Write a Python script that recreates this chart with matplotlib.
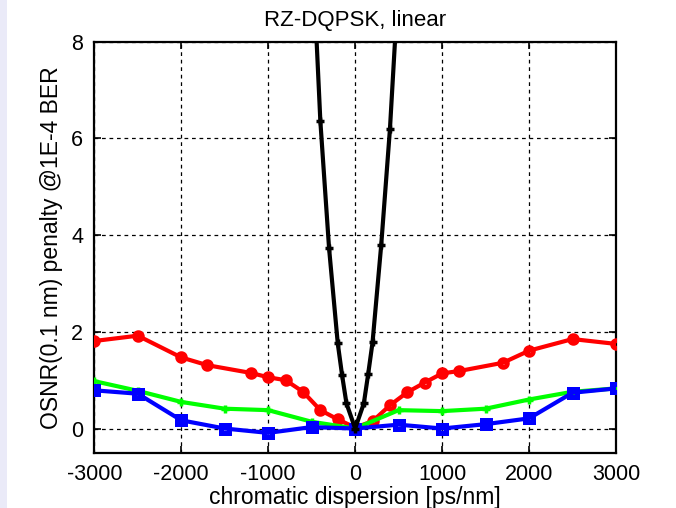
import matplotlib
matplotlib.use("Agg")
import matplotlib.pyplot as plt
from matplotlib.patches import Rectangle

plt.rcParams['font.family'] = ['Liberation Sans', 'DejaVu Sans']

# chromatic dispersion [ps/nm] and OSNR penalty [dB] per curve
cd_red = [-3000, -2500, -2000, -1700, -1200, -1000, -800, -600, -400, -200, 0,
          200, 400, 600, 800, 1000, 1200, 1700, 2000, 2500, 3000]
pen_red = [1.81, 1.92, 1.47, 1.31, 1.15, 1.06, 1.00, 0.76, 0.38, 0.19, 0.02,
           0.15, 0.48, 0.75, 0.95, 1.14, 1.19, 1.36, 1.61, 1.85, 1.75]

cd_green = [-3000, -2500, -2000, -1500, -1000, -500, 0, 500, 1000, 1500, 2000, 2500, 3000]
pen_green = [0.98, 0.78, 0.55, 0.41, 0.38, 0.14, 0.0, 0.38, 0.36, 0.41, 0.60, 0.76, 0.83]

cd_blue = [-3000, -2500, -2000, -1500, -1000, -500, 0, 500, 1000, 1500, 2000, 2500, 3000]
pen_blue = [0.79, 0.72, 0.17, 0.0, -0.09, 0.03, 0.0, 0.08, 0.0, 0.09, 0.21, 0.74, 0.83]

cd_black = [-500, -400, -300, -200, -150, -100, 0, 100, 150, 200, 300, 400, 500]
pen_black = [10.19, 6.35, 3.73, 1.76, 1.10, 0.52, 0.0, 0.52, 1.13, 1.78, 3.80, 6.19, 9.31]

x_ticks = [-3000, -2000, -1000, 0, 1000, 2000, 3000]
y_ticks = [0, 2, 4, 6, 8]

fig = plt.figure(figsize=(6.76, 5.08), dpi=100)
fig.patches.append(Rectangle((0, 0), 7 / 676, 1, transform=fig.transFigure,
                             facecolor='#EAEAF8', edgecolor='none', zorder=0))

ax = fig.add_axes([94.3 / 676, 1 - 452.7 / 508, (616 - 94.3) / 676, (452.7 - 41.7) / 508])

ax.plot(cd_red, pen_red, color=(1, 0, 0), lw=3, marker='o', ms=5.5, mew=3.5,
        mfc='none', mec=(1, 0, 0), zorder=3)
ax.plot(cd_green, pen_green, color=(0, 1, 0), lw=3, marker='+', ms=6, mew=2.5,
        zorder=4)
ax.plot(cd_blue, pen_blue, color=(0, 0, 1), lw=3, marker='s', ms=6, mew=3.6,
        mfc='none', mec=(0, 0, 1), zorder=5)
ax.plot(cd_black, pen_black, color='black', lw=3, marker='+', ms=6, mew=2.5,
        zorder=6)

ax.set_xlim(-3000, 3000)
ax.set_ylim(-0.5, 8)
ax.set_xticks(x_ticks)
ax.set_yticks(y_ticks)
ax.set_xticklabels([str(v) for v in x_ticks])
ax.set_yticklabels([str(v) for v in y_ticks])

ax.grid(True, color='black', linestyle=(0, (3, 3)), linewidth=0.9)
ax.tick_params(direction='in', length=5, width=1.2, top=True, right=True,
               labelsize=15.5, pad=8)
for s in ax.spines.values():
    s.set_linewidth(1.6)

ax.set_title('RZ-DQPSK, linear', fontsize=16, pad=11)
ax.set_xlabel('chromatic dispersion [ps/nm]', fontsize=16.5, labelpad=1)
ax.set_ylabel('OSNR(0.1 nm) penalty @1E-4 BER', fontsize=16.5, labelpad=6)

fig.savefig('out.png', dpi=100)
